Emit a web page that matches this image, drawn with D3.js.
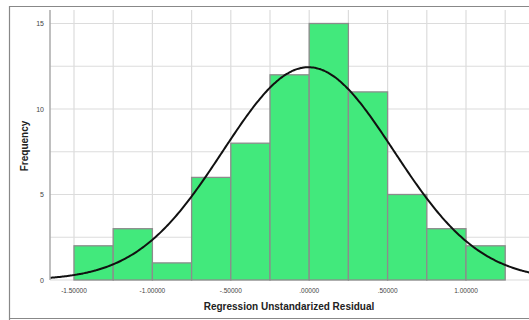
<!DOCTYPE html>
<html>
<head>
<meta charset="utf-8">
<script src="https://cdn.jsdelivr.net/npm/d3@7"></script>
<style>
  body { margin: 0; background: #fff; }
  svg { display: block; font-family: Arial, "Liberation Sans", sans-serif; }
</style>
</head>
<body>
<svg id="chart" width="529" height="320"></svg>
<script>
// histogram bins (lower edges) and counts
let binStarts = [-1.5, -1.25, -1.0, -0.75, -0.5, -0.25, 0.0, 0.25, 0.5, 0.75, 1.0];
let counts = [2, 3, 1, 6, 8, 12, 15, 11, 5, 3, 2];
let binWidth = 0.25;

// normal curve parameters
let curveMean = -0.005;
let curveSd = 0.545;
let curveN = 68;

let xTicks = [-1.5, -1.0, -0.5, 0.0, 0.5, 1.0];
let xTickLabels = ['-1.50000', '-1.00000', '-.50000', '.00000', '.50000', '1.00000'];
let yTicks = [0, 5, 10, 15];
let yGrid = [0, 2.5, 5, 7.5, 10, 12.5, 15];
let xGrid = [-1.5, -1.25, -1.0, -0.75, -0.5, -0.25, 0.0, 0.25, 0.5, 0.75, 1.0, 1.25];

let svg = d3.select('#chart');

// outer frame
svg.append('path')
    .attr('d', 'M9.5,320 V6.5 H529 M9,318.5 H529')
    .attr('fill', 'none')
    .attr('stroke', '#888')
    .attr('stroke-width', 1.2);

let plotLeft = 50, plotRight = 529, plotTop = 10, plotBottom = 280;

// 0.5 units = 78px, -1.5 at x=74
let x = d3.scaleLinear().domain([-1.5, 1.0]).range([74, 466]);
let y = d3.scaleLinear().domain([0, 15]).range([280, 23.5]);

svg.append('defs').append('clipPath').attr('id', 'plotclip')
    .append('rect').attr('x', plotLeft).attr('y', plotTop)
    .attr('width', plotRight - plotLeft).attr('height', plotBottom - plotTop + 2);

let plot = svg.append('g').attr('clip-path', 'url(#plotclip)');

// grid
plot.selectAll('.hgrid').data(yGrid).enter().append('line')
    .attr('x1', plotLeft).attr('x2', plotRight)
    .attr('y1', d => y(d)).attr('y2', d => y(d))
    .attr('stroke', '#dcdcdc').attr('stroke-width', 1.2);
plot.selectAll('.vgrid').data(xGrid).enter().append('line')
    .attr('x1', d => x(d)).attr('x2', d => x(d))
    .attr('y1', plotTop).attr('y2', plotBottom)
    .attr('stroke', '#dcdcdc').attr('stroke-width', 1.2);

// bars
plot.selectAll('.bar').data(counts).enter().append('rect')
    .attr('x', (d, i) => x(binStarts[i]))
    .attr('y', d => y(d))
    .attr('width', (d, i) => x(binStarts[i] + binWidth) - x(binStarts[i]))
    .attr('height', d => y(0) - y(d))
    .attr('fill', '#42e97c')
    .attr('stroke', '#8c8c8c')
    .attr('stroke-width', 1.3);

// normal curve
let xs = d3.range(x.invert(plotLeft), x.invert(plotRight) + 0.01, 0.01);
let normal = v => curveN * binWidth / (curveSd * Math.sqrt(2 * Math.PI)) *
    Math.exp(-0.5 * Math.pow((v - curveMean) / curveSd, 2));
plot.append('path')
    .datum(xs)
    .attr('d', d3.line().x(d => x(d)).y(d => y(normal(d))).curve(d3.curveBasis))
    .attr('fill', 'none')
    .attr('stroke', '#111')
    .attr('stroke-width', 2);

// y axis line
svg.append('line')
    .attr('x1', plotLeft).attr('x2', plotLeft).attr('y1', plotTop).attr('y2', plotBottom)
    .attr('stroke', '#aaa').attr('stroke-width', 1.5);

// y tick labels
svg.selectAll('.ylab').data(yTicks).enter().append('text')
    .attr('x', 44).attr('y', d => y(d) + 2.5)
    .attr('text-anchor', 'end')
    .attr('font-size', 7)
    .attr('fill', '#444')
    .text(d => d);

// x tick labels
svg.selectAll('.xlab').data(xTicks).enter().append('text')
    .attr('x', d => x(d)).attr('y', 293)
    .attr('text-anchor', 'middle')
    .attr('font-size', 6.5)
    .attr('fill', '#444')
    .text((d, i) => xTickLabels[i]);

// axis titles
svg.append('text')
    .attr('x', 289).attr('y', 310)
    .attr('text-anchor', 'middle')
    .attr('font-size', 10).attr('font-weight', 'bold')
    .attr('fill', '#222')
    .text('Regression Unstandarized Residual');

svg.append('text')
    .attr('transform', 'translate(28,146) rotate(-90)')
    .attr('text-anchor', 'middle')
    .attr('font-size', 10).attr('font-weight', 'bold')
    .attr('fill', '#222')
    .text('Frequency');
</script>
</body>
</html>
